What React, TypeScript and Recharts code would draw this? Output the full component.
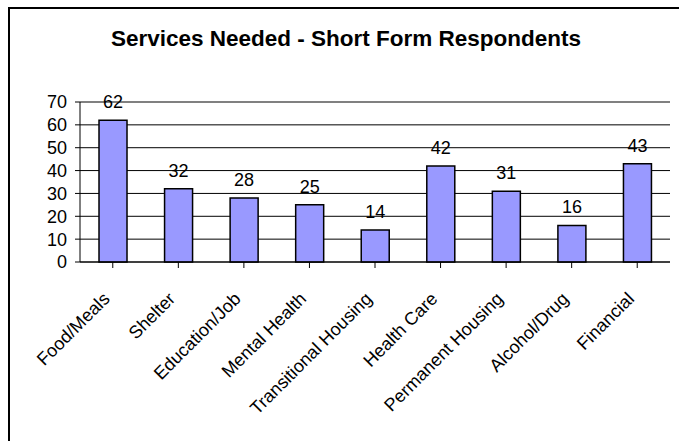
import React from 'react';
import { BarChart, Bar, XAxis, YAxis, CartesianGrid, LabelList, ReferenceLine } from 'recharts';

const services = [
  'Food/Meals',
  'Shelter',
  'Education/Job',
  'Mental Health',
  'Transitional Housing',
  'Health Care',
  'Permanent Housing',
  'Alcohol/Drug',
  'Financial',
];
const respondents = [62, 32, 28, 25, 14, 42, 31, 16, 43];
const yTicks = [0, 10, 20, 30, 40, 50, 60, 70];

const chartData = services.map((name, i) => ({ name, count: respondents[i] }));

const FONT = 'Arial, "Liberation Sans", sans-serif';

// rotated category labels, right end sits under the tick like Excel does it
const AngledTick = (props: any) => {
  const { x, y, payload } = props;
  return (
    <g transform={`translate(${x - 2},${y + 30})`}>
      <text
        x={0}
        y={0}
        transform="rotate(-45)"
        textAnchor="end"
        fontFamily={FONT}
        fontSize={18}
        fill="#000"
      >
        {payload.value}
      </text>
    </g>
  );
};

const App: React.FC = () => {
  return (
    <div style={{ position: 'absolute', left: 0, top: 0, width: 679, height: 441, background: '#fff', overflow: 'hidden' }}>
      {/* outer frame, cut off on the right and bottom */}
      <div
        style={{
          position: 'absolute',
          left: 8,
          top: 7,
          width: 700,
          height: 460,
          borderLeft: '2px solid #000',
          borderTop: '2px solid #000',
        }}
      />
      <div
        style={{
          position: 'absolute',
          left: 0,
          top: 26,
          width: 692,
          textAlign: 'center',
          fontFamily: FONT,
          fontWeight: 'bold',
          fontSize: 22.5,
          color: '#000',
        }}
      >
        Services Needed - Short Form Respondents
      </div>
      <div style={{ position: 'absolute', left: 0, top: 0 }}>
        <BarChart
          width={679}
          height={441}
          data={chartData}
          margin={{ top: 102, right: 9, left: 0, bottom: 0 }}
          barCategoryGap="29%"
        >
          <CartesianGrid horizontal vertical={false} stroke="#000" strokeWidth={1} />
          <XAxis
            dataKey="name"
            interval={0}
            height={179}
            axisLine={{ stroke: '#000', strokeWidth: 1 }}
            tickLine={{ stroke: '#000' }}
            tickSize={6}
            tick={<AngledTick />}
          />
          <YAxis
            domain={[0, 70]}
            ticks={yTicks}
            interval={0}
            width={80}
            axisLine={{ stroke: '#000', strokeWidth: 1 }}
            tickLine={{ stroke: '#000' }}
            tickSize={5}
            tickMargin={8}
            tick={{ fill: '#000', fontSize: 18, fontFamily: FONT }}
          />
          <YAxis
            yAxisId="frame"
            orientation="right"
            domain={[0, 70]}
            width={0}
            tick={false}
            tickLine={false}
            axisLine={{ stroke: '#808080', strokeWidth: 2 }}
          />
          <ReferenceLine y={70} stroke="#808080" strokeWidth={2} />
          <Bar dataKey="count" fill="#9999FF" stroke="#000" strokeWidth={1.5} isAnimationActive={false}>
            <LabelList
              dataKey="count"
              position="top"
              offset={12}
              fill="#000"
              fontSize={18}
              fontFamily={FONT}
            />
          </Bar>
        </BarChart>
      </div>
    </div>
  );
};

export default App;
